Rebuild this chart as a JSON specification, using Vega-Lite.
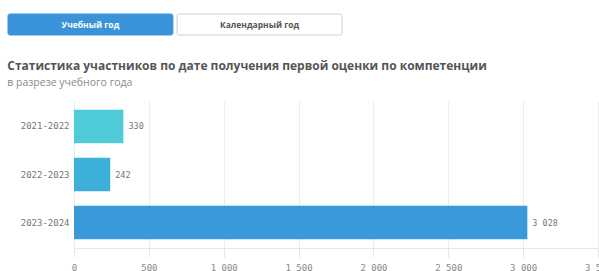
{
  "$schema": "https://vega.github.io/schema/vega-lite/v6.json",
  "background": "white",
  "padding": {"left": 7, "top": 13, "right": 0, "bottom": 0},
  "autosize": {"type": "pad"},
  "config": {
    "view": {"stroke": null},
    "locale": {"number": {"decimal": ",", "thousands": " ", "grouping": [3], "currency": ["", ""]}}
  },
  "spacing": 23,
  "bounds": "full",
  "resolve": {"scale": {"color": "independent", "fill": "independent", "stroke": "independent", "x": "independent", "y": "independent"}},
  "datasets": {
    "buttons": [
      {"label": "Учебный год", "selected": "yes"},
      {"label": "Календарный год", "selected": "no"}
    ],
    "stats": [
      {"year": "2021-2022", "count": 330},
      {"year": "2022-2023", "count": 242},
      {"year": "2023-2024", "count": 3028}
    ]
  },
  "vconcat": [
    {
      "width": 268,
      "height": 21,
      "data": {"name": "buttons"},
      "encoding": {
        "x": {"field": "label", "type": "nominal", "sort": null, "axis": null,
              "scale": {"paddingInner": 0.025, "paddingOuter": 0, "range": [-66, 268]}}
      },
      "layer": [
        {
          "mark": {"type": "bar", "cornerRadius": 2, "strokeWidth": 1},
          "encoding": {
            "y": {"value": 0},
            "y2": {"value": 21},
            "fill": {"field": "selected", "type": "nominal", "legend": null,
                     "scale": {"domain": ["yes", "no"], "range": ["#3a93d8", "#ffffff"]}},
            "stroke": {"field": "selected", "type": "nominal", "legend": null,
                       "scale": {"domain": ["yes", "no"], "range": ["#3a93d8", "#cfcfcf"]}}
          }
        },
        {
          "mark": {"type": "text", "fontSize": 8.5, "font": "Open Sans", "fontWeight": "bold", "baseline": "middle"},
          "encoding": {
            "y": {"value": 10.5},
            "text": {"field": "label"},
            "color": {"field": "selected", "type": "nominal", "legend": null,
                      "scale": {"domain": ["yes", "no"], "range": ["#ffffff", "#555555"]}}
          }
        }
      ]
    },
    {
      "width": 524,
      "height": 147,
      "data": {"name": "stats"},
      "title": {
        "text": "Статистика участников по дате получения первой оценки по компетенции",
        "subtitle": "в разрезе учебного года",
        "anchor": "start",
        "frame": "bounds",
        "font": "Open Sans",
        "fontSize": 12,
        "fontWeight": "bold",
        "color": "#555555",
        "subtitleFont": "Open Sans",
        "subtitleFontSize": 10.5,
        "subtitleColor": "#8a8a8a",
        "subtitlePadding": 5,
        "offset": 12,
        "dx": -13
      },
      "encoding": {
        "y": {"field": "year", "type": "nominal", "sort": null, "title": null,
              "scale": {"paddingInner": 0.3, "paddingOuter": 0.18},
              "axis": {"domain": false, "ticks": false, "labelFont": "DejaVu Sans Mono", "labelFontSize": 9,
                       "labelColor": "#777777", "labelPadding": 5}},
        "x": {"field": "count", "type": "quantitative", "title": null,
              "scale": {"domain": [0, 3500], "nice": false},
              "axis": {"values": [0, 500, 1000, 1500, 2000, 2500, 3000, 3500], "format": ",d",
                       "labelFont": "DejaVu Sans Mono", "labelFontSize": 9, "labelColor": "#888888",
                       "gridColor": "#ececec", "domainColor": "#dde9f2", "tickColor": "#e6e6e6",
                       "tickSize": 9, "labelPadding": 6, "labelOverlap": false, "labelFlush": false}}
      },
      "layer": [
        {
          "mark": {"type": "bar"},
          "encoding": {
            "color": {"field": "year", "type": "nominal", "legend": null,
                      "scale": {"domain": ["2021-2022", "2022-2023", "2023-2024"],
                                "range": ["#4ecbd6", "#3cb0db", "#3a9ad9"]}}
          }
        },
        {
          "mark": {"type": "text", "align": "left", "dx": 5, "font": "DejaVu Sans Mono", "fontSize": 8.5, "color": "#777777"},
          "encoding": {"text": {"field": "count", "type": "quantitative", "format": ",d"}}
        }
      ]
    }
  ]
}
